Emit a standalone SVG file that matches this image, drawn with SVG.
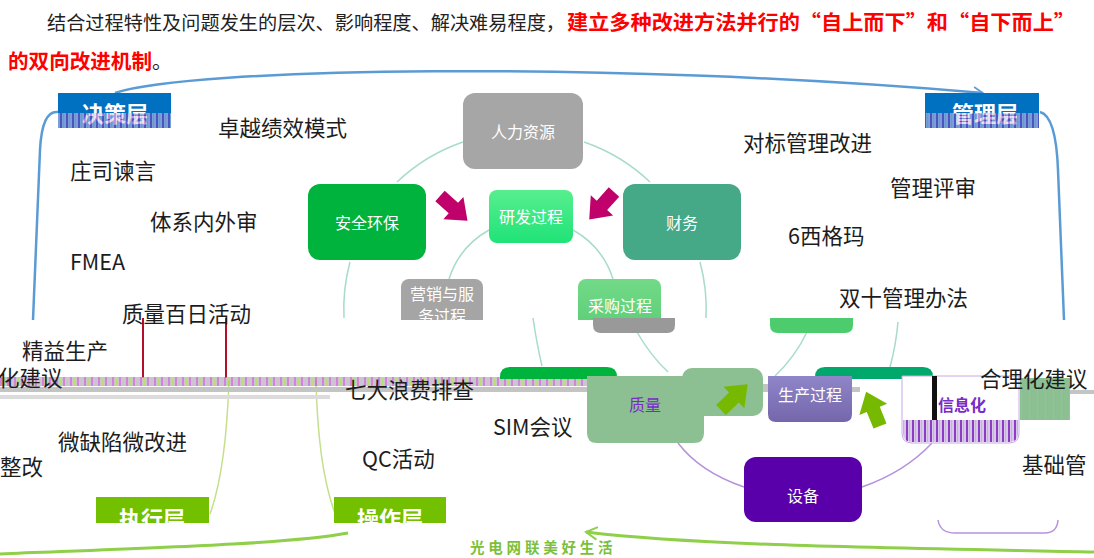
<svg xmlns="http://www.w3.org/2000/svg" width="1094" height="558" viewBox="0 0 1094 558">
<style>
.t{font-family:"Noto Sans CJK SC","Liberation Sans",sans-serif}
.lbl{font-family:"Noto Sans CJK SC","Liberation Sans",sans-serif;font-size:21.5px;fill:#1c1c1c}
.nt{font-family:"Noto Sans CJK SC","Liberation Sans",sans-serif;font-size:16px;fill:#ffffff;text-anchor:middle}
.ly{font-family:"Noto Sans CJK SC","Liberation Sans",sans-serif;font-size:22px;font-weight:bold;fill:#ffffff;text-anchor:middle}
.ring{fill:none;stroke:#a6dcc8;stroke-width:1.5}
.pring{fill:none;stroke:#b592dc;stroke-width:1.5}
.blue{fill:none;stroke:#5b9bd5;stroke-width:2.5}
.grn{fill:none;stroke:#8fcf4a;stroke-width:3}
.gthin{fill:none;stroke:#c4e08c;stroke-width:1.5}
.mag{fill:#c0006b}
.garr{fill:#76b900}
</style>
<defs>
<marker id="ab" viewBox="0 0 12 12" refX="10" refY="6" markerWidth="5" markerHeight="5" orient="auto" markerUnits="strokeWidth">
<path d="M1 1 L10 6 L1 11" fill="none" stroke="#5b9bd5" stroke-width="1.6"/>
</marker>
<marker id="ag" viewBox="0 0 12 12" refX="10" refY="6" markerWidth="5" markerHeight="5" orient="auto" markerUnits="strokeWidth">
<path d="M1 1 L10 6 L1 11" fill="none" stroke="#8fcf4a" stroke-width="1.6"/>
</marker>
<linearGradient id="gYF" x1="0" y1="0" x2="0" y2="1"><stop offset="0" stop-color="#58ee8e"/><stop offset="1" stop-color="#1fe377"/></linearGradient>
<linearGradient id="gCG" x1="0" y1="0" x2="0" y2="1"><stop offset="0" stop-color="#72da88"/><stop offset="1" stop-color="#5ccc76"/></linearGradient>
<linearGradient id="gSC" x1="0" y1="0" x2="0" y2="1"><stop offset="0" stop-color="#8e86c8"/><stop offset="1" stop-color="#7566ab"/></linearGradient>
<pattern id="glitch" width="7" height="4" patternUnits="userSpaceOnUse"><rect width="7" height="4" fill="#b9b1c2"/><rect width="2" height="4" fill="#c65ac8"/><rect x="4" width="1" height="4" fill="#a6d24a"/></pattern>
<pattern id="strp" width="6" height="4" patternUnits="userSpaceOnUse"><rect width="6" height="4" fill="#d8c8e8"/><rect width="2" height="4" fill="#8f3cc4"/><rect x="3" width="1" height="4" fill="#c8d040"/></pattern>
<pattern id="gstrp" width="8" height="4" patternUnits="userSpaceOnUse"><rect width="8" height="4" fill="#8cbf92"/><rect x="5" width="1" height="4" fill="#d0a0b0"/></pattern>
<clipPath id="cUp"><rect x="0" y="0" width="1094" height="320"/></clipPath>
<clipPath id="cZX"><rect x="96" y="497" width="113" height="26"/></clipPath>
<clipPath id="cCZ"><rect x="334" y="497" width="112" height="26"/></clipPath>
</defs>

<g id="title">
<text class="t" x="47" y="30" font-size="19.2" fill="#222" textLength="518" lengthAdjust="spacingAndGlyphs">结合过程特性及问题发生的层次、影响程度、解决难易程度，</text>
<text class="t" x="567" y="30" font-size="20.5" font-weight="bold" fill="#ff0000" textLength="508" lengthAdjust="spacingAndGlyphs">建立多种改进方法并行的“自上而下”和“自下而上”</text>
<text class="t" x="8" y="69" font-size="20.5" font-weight="bold" fill="#ff0000" textLength="144" lengthAdjust="spacingAndGlyphs">的双向改进机制</text>
<text class="t" x="152" y="69" font-size="20" fill="#222">。</text>
</g>

<g id="connectors">
<path class="blue" d="M115 93 C190 68 600 60 983 93" marker-end="url(#ab)"/>
<path class="blue" d="M58 112 Q42 110 40 150 L33 320"/>
<path class="blue" d="M1040 112 Q1056 116 1058 170 L1064 320"/>
<path class="grn" d="M1094 552 C900 548 700 546 586 532" marker-end="url(#ag)"/>
<path class="grn" d="M0 554 C150 548 290 544 348 533"/>
<path class="gthin" d="M229 380 Q226 470 210 514"/>
<path class="gthin" d="M316 380 Q318 470 336 516"/>
<path class="ring" d="M463 142 A181 181 0 0 0 397 182"/>
<path class="ring" d="M584 142 A181 181 0 0 1 650 182"/>
<path class="ring" d="M350 262 A181 181 0 0 0 344 318"/>
<path class="ring" d="M700 262 A181 181 0 0 1 706 318"/>
<path class="ring" d="M489 230 A86 86 0 0 0 449 279"/>
<path class="ring" d="M573 230 A86 86 0 0 1 613 279"/>
<path class="ring" d="M533 318 Q537 345 542 366"/>
<path class="ring" d="M637 332 Q650 355 668 372"/>
<path class="ring" d="M807 332 Q795 357 775 376"/>
<path class="ring" d="M898 322 Q896 345 890 367"/>
<path class="pring" d="M678 443 Q700 472 744 487"/>
<path class="pring" d="M862 487 Q905 472 932 443"/>
<path class="pring" d="M938 520 Q940 533 955 533 L1045 533 Q1057 533 1058 520"/>
<line x1="143" y1="318" x2="143" y2="378" stroke="#b0102a" stroke-width="2"/>
<line x1="226" y1="318" x2="226" y2="378" stroke="#b0102a" stroke-width="2"/>
</g>

<g id="glitch-bands">
<rect x="0" y="377" width="690" height="9" fill="url(#glitch)" opacity="0.75"/>
<rect x="0" y="387" width="860" height="5" fill="#c4c4c4"/>
<rect x="0" y="395" width="330" height="4" fill="#dcdcdc"/>
<rect x="700" y="384" width="70" height="3" fill="#c4c4c4"/>
<rect x="1020" y="390" width="74" height="4" fill="#c4c4c4"/>
</g>

<g id="n-juece"><rect x="58" y="93" width="113" height="35" fill="#0070c0"/><text class="ly" x="115" y="122">决策层</text><rect x="58" y="113" width="113" height="15" fill="url(#strp)" opacity="0.55"/></g>
<g id="n-guanli"><rect x="925" y="93" width="114" height="35" fill="#0070c0"/><text class="ly" x="985" y="122">管理层</text><rect x="925" y="113" width="114" height="15" fill="url(#strp)" opacity="0.55"/></g>
<g id="n-zhixing"><rect x="96" y="497" width="113" height="26" fill="#72c000"/><text class="ly" x="152" y="527" clip-path="url(#cZX)">执行层</text></g>
<g id="n-caozuo"><rect x="334" y="497" width="112" height="26" fill="#72c000"/><text class="ly" x="390" y="527" clip-path="url(#cCZ)">操作层</text></g>

<g id="n-renli"><rect x="463" y="93" width="120" height="76" rx="12" fill="#a6a6a6"/><text class="nt" x="523" y="138">人力资源</text></g>
<g id="n-anquan"><rect x="308" y="184" width="118" height="76" rx="12" fill="#00b33c"/><text class="nt" x="367" y="229">安全环保</text></g>
<g id="n-caiwu"><rect x="623" y="184" width="118" height="76" rx="12" fill="#45a887"/><text class="nt" x="682" y="229">财务</text></g>
<g id="n-yanfa"><rect x="489" y="190" width="84" height="53" rx="8" fill="url(#gYF)"/><text class="nt" x="531" y="223">研发过程</text></g>
<g id="n-yingxiao" clip-path="url(#cUp)"><rect x="401" y="279" width="82" height="54" rx="8" fill="#a5a5a5"/><text class="nt" x="442" y="300" font-size="15">营销与服</text><text class="nt" x="442" y="322" font-size="15">务过程</text></g>
<g id="n-caigou" clip-path="url(#cUp)"><rect x="578" y="279" width="83" height="54" rx="8" fill="url(#gCG)"/><text class="nt" x="620" y="312">采购过程</text></g>
<g id="n-partial-gray"><path d="M593 318 H675 V325 Q675 333 667 333 H601 Q593 333 593 325 Z" fill="#999999"/></g>
<g id="n-partial-green"><path d="M770 318 H853 V325 Q853 333 845 333 H778 Q770 333 770 325 Z" fill="#4dcc6e"/></g>

<g id="n-partial-a"><path d="M500 379 V377 Q500 367 510 367 H607 Q617 367 617 377 V379 Z" fill="#00b33c"/></g>
<g id="n-partial-e"><path d="M815 379 V377 Q815 367 825 367 H923 Q933 367 933 377 V379 Z" fill="#00a86b"/></g>
<g id="n-partial-c"><rect x="682" y="368" width="81" height="48" rx="10" fill="#8cbf92"/></g>
<g id="n-zhiliang"><path d="M587 376 H704 V433 Q704 443 694 443 H597 Q587 443 587 433 Z" fill="#8cc093"/><text class="nt" x="645" y="411" style="fill:#7a2cc8">质量</text></g>
<g id="n-shengchan"><path d="M768 376 H852 V414 Q852 422 844 422 H776 Q768 422 768 414 Z" fill="url(#gSC)"/><text class="nt" x="810" y="401">生产过程</text></g>
<g id="n-xinxi"><path d="M902 376 H1019 V433 Q1019 443 1009 443 H912 Q902 443 902 433 Z" fill="#ffffff" stroke="#c6a8e6" stroke-width="1"/><rect x="932" y="376" width="5" height="44" fill="#111"/><path d="M903 420 H1018 V433 Q1018 442 1009 442 H912 Q903 442 903 433 Z" fill="url(#strp)"/><text class="nt" x="962" y="411" style="fill:#7a2cc8;font-weight:bold">信息化</text></g>
<g id="n-partial-g"><rect x="1020" y="378" width="50" height="42" fill="url(#gstrp)"/></g>
<g id="n-shebei"><rect x="744" y="457" width="118" height="65" rx="12" fill="#5a00aa"/><text class="nt" x="803" y="502">设备</text></g>

<g id="arrows">
<polygon class="mag" transform="translate(440 196) rotate(42)" points="0,-7 18,-7 18,-15 37,0 18,15 18,7 0,7"/>
<polygon class="mag" transform="translate(614 192) rotate(132)" points="0,-7 18,-7 18,-15 37,0 18,15 18,7 0,7"/>
<polygon class="garr" transform="translate(721 410) rotate(-44)" points="0,-7 18,-7 18,-15 37,0 18,15 18,7 0,7"/>
<polygon class="garr" transform="translate(880 426) rotate(-112)" points="0,-7 18,-7 18,-15 37,0 18,15 18,7 0,7"/>
</g>

<g id="labels">
<text class="lbl" x="218" y="136">卓越绩效模式</text>
<text class="lbl" x="70" y="179">庄司谏言</text>
<text class="lbl" x="150" y="230">体系内外审</text>
<text class="lbl" x="70" y="270">FMEA</text>
<text class="lbl" x="122" y="322">质量百日活动</text>
<text class="lbl" x="22" y="359">精益生产</text>
<text class="lbl" x="-2" y="386">化建议</text>
<text class="lbl" x="58" y="450">微缺陷微改进</text>
<text class="lbl" x="0" y="475">整改</text>
<text class="lbl" x="345" y="398">七大浪费排查</text>
<text class="lbl" x="493" y="435">SIM会议</text>
<text class="lbl" x="362" y="467">QC活动</text>
<text class="lbl" x="743" y="151">对标管理改进</text>
<text class="lbl" x="890" y="196">管理评审</text>
<text class="lbl" x="788" y="244">6西格玛</text>
<text class="lbl" x="839" y="306">双十管理办法</text>
<text class="lbl" x="980" y="387">合理化建议</text>
<text class="lbl" x="1022" y="473">基础管</text>
<text class="t" x="470" y="553" font-size="14.5" font-weight="bold" fill="#7bbf3a" letter-spacing="3.8">光电网联美好生活</text>
</g>
</svg>
